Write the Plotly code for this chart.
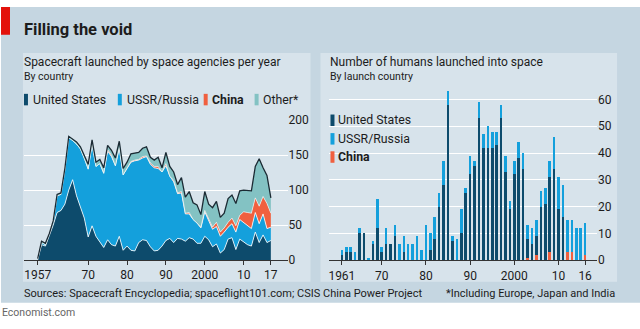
import plotly.graph_objects as go

# ---- Spacecraft launched by space agencies per year (stacked areas) ----
launch_years = list(range(1957, 2018))
us_launches = [0, 22, 20, 34, 50, 68, 71, 80, 100, 115, 92, 76, 60, 33, 49, 34, 25, 18, 29, 22,
               20, 34, 14, 20, 14, 13, 25, 29, 28, 19, 13, 14, 20, 28, 31, 25, 31, 30, 27, 32,
               30, 24, 24, 34, 29, 19, 23, 10, 15, 30, 32, 15, 30, 26, 22, 20, 40, 25, 36, 25, 28]
ussr_launches = [2, 3, 2, 3, 5, 24, 23, 49, 75, 56, 74, 83, 86, 97, 116, 100, 113, 106, 127, 126,
                 115, 126, 108, 111, 126, 129, 118, 117, 120, 118, 119, 117, 106, 107, 89, 87, 64, 66, 39, 34,
                 28, 29, 22, 35, 28, 25, 25, 24, 25, 17, 20, 25, 28, 28, 28, 25, 28, 27, 30, 20, 19]
china_launches = [0, 0, 0, 0, 0, 0, 0, 0, 0, 0, 0, 0, 0, 1, 1, 0, 0, 1, 2, 2,
                  0, 1, 0, 0, 1, 1, 1, 2, 1, 2, 2, 3, 0, 3, 0, 2, 1, 2, 1, 2,
                  0, 0, 1, 2, 1, 3, 6, 6, 6, 7, 8, 9, 6, 15, 18, 22, 21, 25, 25, 36, 20]
other_launches = [0, 2, 2, 1, 1, 2, 2, 2, 2, 2, 3, 3, 4, 6, 6, 6, 6, 7, 6, 7,
                  11, 9, 9, 9, 11, 10, 10, 12, 13, 8, 9, 13, 6, 16, 14, 12, 12, 20, 23, 30,
                  24, 26, 18, 27, 22, 28, 30, 21, 21, 34, 33, 32, 35, 31, 32, 32, 45, 68, 41, 40, 22]

# ---- Number of humans launched into space (stacked bars) ----
crew_years = list(range(1961, 2017))
crew_china = [0] * 42 + [1, 0, 2, 0, 0, 3, 0, 0, 0, 3, 3, 0, 0, 2]
crew_us = [2, 3, 3, 0, 10, 10, 0, 6, 12, 3, 6, 6, 9, 0, 3, 0, 0, 0, 0, 0,
           4, 8, 20, 28, 58, 7, 0, 10, 25, 32, 35, 53, 42, 42, 42, 43, 53, 33, 19, 32,
           38, 34, 7, 6, 7, 20, 21, 28, 34, 19, 16, 0, 0, 0, 0, 0]
crew_ussr = [2, 2, 2, 3, 2, 0, 1, 1, 11, 2, 6, 0, 4, 6, 6, 6, 6, 9, 4, 13,
             6, 8, 5, 9, 5, 2, 8, 9, 2, 7, 2, 6, 5, 8, 6, 5, 5, 6, 3, 5,
             6, 6, 5, 6, 6, 6, 6, 6, 12, 12, 12, 12, 12, 12, 12, 12]

left_ticks = [1957, 1970, 1980, 1990, 2000, 2010, 2017]
left_ticktext = ["1957", "70", "80", "90", "2000", "10", "17"]
right_ticks = [1961, 1970, 1980, 1990, 2000, 2010, 2016]
right_ticktext = ["1961", "70", "80", "90", "2000", "10", "16"]

W, H = 640, 329
FONT = "Roboto"
C_US = "#0d4b6c"
C_RU = "#14a0dc"
C_CN = "#f0603f"
C_OT = "#83c2c3"
TEXT = "#1c1c1c"
OUTER_BG = "#c5d6e1"
PANEL_BG = "#d7e3eb"


def px(x):
    return x / W


def py(y):
    return 1 - y / H


fig = go.Figure()

area_series = [
    ("United States", us_launches, C_US, "white", 0.8),
    ("USSR/Russia", ussr_launches, C_RU, "white", 0.8),
    ("China", china_launches, C_CN, "white", 0.6),
    ("Other*", other_launches, C_OT, "#1b2a33", 1.3),
]
for name, vals, fill, lc, lw in area_series:
    fig.add_trace(go.Scatter(
        x=launch_years, y=vals, name=name, mode="lines", stackgroup="launch",
        fillcolor=fill, line=dict(color=lc, width=lw, shape="linear"),
        xaxis="x", yaxis="y", showlegend=False, hoverinfo="skip",
    ))

for name, vals, col in [("China", crew_china, C_CN), ("United States", crew_us, C_US),
                        ("USSR/Russia", crew_ussr, C_RU)]:
    fig.add_trace(go.Bar(
        x=crew_years, y=vals, name=name, marker=dict(color=col, line=dict(width=0)),
        xaxis="x2", yaxis="y2", showlegend=False, hoverinfo="skip",
    ))

axis_common = dict(
    showgrid=False, zeroline=False, ticks="outside", ticklen=4, tickwidth=1,
    tickcolor="#333333", showline=True, linecolor="#333333", linewidth=1,
    tickfont=dict(family=FONT, size=12, color=TEXT),
)
yaxis_common = dict(
    showgrid=True, gridcolor="white", gridwidth=1.2, zeroline=False, side="right",
    ticks="", showline=False, tickfont=dict(family=FONT, size=12, color=TEXT),
)

fig.update_layout(
    width=W, height=H, autosize=False,
    margin=dict(l=0, r=0, t=0, b=0),
    paper_bgcolor="white", plot_bgcolor="rgba(0,0,0,0)",
    barmode="stack", bargap=0.42,
    xaxis=dict(domain=[px(22.7), px(287)], range=[1953.4, 2021.3],
               tickvals=left_ticks, ticktext=left_ticktext, anchor="y", **axis_common),
    yaxis=dict(domain=[py(264.3), py(118.3)], range=[0, 200], tickvals=[0, 50, 100, 150, 200],
               anchor="x", **yaxis_common),
    xaxis2=dict(domain=[px(329), px(597)], range=[1958.2, 2018.7],
                tickvals=right_ticks, ticktext=right_ticktext, anchor="y2", **axis_common),
    yaxis2=dict(domain=[py(264.5), py(82.5)], range=[0, 65], tickvals=[0, 10, 20, 30, 40, 50, 60],
                anchor="x2", **yaxis_common),
)

shapes = [
    dict(type="rect", xref="paper", yref="paper", x0=0, x1=1, y0=py(309), y1=1,
         fillcolor=OUTER_BG, line=dict(width=0), layer="below"),
    dict(type="rect", xref="paper", yref="paper", x0=px(22), x1=px(310), y0=py(287), y1=py(48),
         fillcolor=PANEL_BG, line=dict(width=0), layer="below"),
    dict(type="rect", xref="paper", yref="paper", x0=px(320), x1=px(617), y0=py(287), y1=py(48),
         fillcolor=PANEL_BG, line=dict(width=0), layer="below"),
    dict(type="rect", xref="paper", yref="paper", x0=0, x1=px(9), y0=py(29), y1=1,
         fillcolor="#e3120b", line=dict(width=0)),
]


def key(x, y, color):
    return dict(type="rect", xref="paper", yref="paper", x0=px(x), x1=px(x + 4),
                y0=py(y + 6), y1=py(y - 6), fillcolor=color, line=dict(width=0))


# legend keys
for x, col in [(23, C_US), (117, C_RU), (203, C_CN), (254, C_OT)]:
    shapes.append(key(x, 96.7, col))
for y, col in [(118.3, C_US), (137.7, C_RU), (156.7, C_CN)]:
    shapes.append(key(330, y, col))
fig.update_layout(shapes=shapes)


def label(text, x, y, size=12, bold=False, color=TEXT, anchor="left"):
    if bold:
        text = f"<b>{text}</b>"
    fig.add_annotation(text=text, x=px(x), y=py(y), xref="paper", yref="paper",
                       xanchor=anchor, yanchor="middle", showarrow=False,
                       font=dict(family=FONT, size=size, color=color))


label("Filling the void", 21, 23, size=16.5, bold=True)
label("Spacecraft launched by space agencies per year", 21, 57, size=12)
label("By country", 21, 73, size=10.5)
label("United States", 30, 96.7, size=12.3)
label("USSR/Russia", 124, 96.7, size=12.3)
label("China", 209, 96.7, size=12.3, bold=True)
label("Other*", 260, 96.7, size=12.3)

label("Number of humans launched into space", 328, 57, size=12)
label("By launch country", 328, 73, size=10.5)
label("United States", 336, 118.3, size=12.3)
label("USSR/Russia", 336, 137.7, size=12.3)
label("China", 336, 156.7, size=12.3, bold=True)

label("Sources: Spacecraft Encyclopedia; spaceflight101.com; CSIS China Power Project", 21, 299, size=11)
label("*Including Europe, Japan and India", 617, 299, size=11, anchor="right")
label("Economist.com", -1, 319, size=10.5, color="#666666")

fig.write_html("out.html")
